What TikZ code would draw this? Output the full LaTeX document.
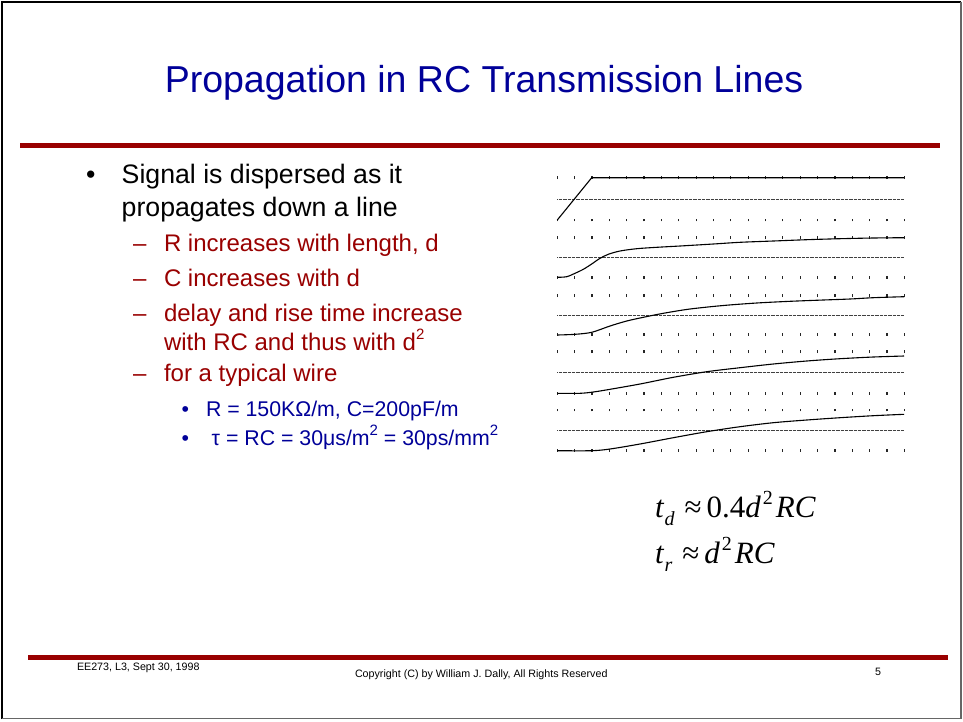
\documentclass[tikz,border=0pt]{standalone}
\usepackage{fontspec}
\setmainfont{Liberation Sans}
\newfontfamily\tnr{Liberation Serif}
\definecolor{slred}{RGB}{153,0,0}
\definecolor{slblue}{RGB}{0,0,153}
\tikzset{
  txt/.style={anchor=base west, inner sep=0pt, outer sep=0pt},
  ttl/.style={anchor=base, inner sep=0pt, font=\fontsize{37.5}{44}\selectfont, text=slblue},
  lvla/.style={txt, font=\fontsize{26.7}{32}\selectfont, text=black},
  lvlb/.style={txt, font=\fontsize{24}{29}\selectfont, text=slred},
  lvlc/.style={txt, font=\fontsize{21.3}{26}\selectfont, text=slblue},
  foot/.style={txt, font=\fontsize{10.7}{13}\selectfont},
  eq/.style={txt, font=\tnr\fontsize{31}{36}\selectfont},
  tickmark/.style={line width=1.2pt, draw=black!85},
  midline/.style={draw=black!75, line width=1pt, dash pattern=on 0.7pt off 0.6pt},
  trace/.style={draw=black, line width=1.1pt},
  barfill/.style={fill=slred, draw=none},
}
\newcommand{\subs}[1]{\raisebox{-8pt}{\fontsize{20}{20}\selectfont\itshape #1}}
\newcommand{\sups}[1]{\raisebox{13pt}{\fontsize{20}{20}\selectfont #1}}
\newcommand{\supt}[1]{\raisebox{0.45em}{\fontsize{15}{15}\selectfont #1}}
\begin{document}
\begin{tikzpicture}[x=1pt,y=-1pt]
\useasboundingbox (0,0) rectangle (963,721);
\fill[white] (0,0) rectangle (963,721);
% frame
\draw[line width=2pt, black] (1.5,719) -- (1.5,1.5) -- (961,1.5);
\draw[line width=1.2pt, black!60] (961,1.5) -- (961,718.5) -- (1.5,718.5);
% bars
\fill[barfill] (20,142.5) rectangle (940,147.7);
\fill[barfill] (28,655) rectangle (948,660);
% title
\node[ttl] (title) at (484,92) {Propagation in RC Transmission Lines};
% bullets
\node[lvla] (b1) at (86,183.3) {•};
\node[lvla] (t1a) at (121.7,183.3) {Signal is dispersed as it};
\node[lvla] (t1b) at (121.7,216.7) {propagates down a line};
\node[lvlb] (d1) at (133,251.7) {–};
\node[lvlb] (s1) at (164,251.7) {R increases with length, d};
\node[lvlb] (d2) at (133,286) {–};
\node[lvlb] (s2) at (164,286) {C increases with d};
\node[lvlb] (d3) at (133,321.7) {–};
\node[lvlb] (s3a) at (164,321.7) {delay and rise time increase};
\node[lvlb] (s3b) at (164,350) {with RC and thus with d\supt{2}};
\node[lvlb] (d4) at (133,381.7) {–};
\node[lvlb] (s4) at (164,381.7) {for a typical wire};
\node[lvlc] (c1) at (181.7,416) {•};
\node[lvlc] (u1) at (206,416) {R = 150KΩ/m, C=200pF/m};
\node[lvlc] (c2) at (181.7,445) {•};
\node[lvlc] (u2) at (211.7,445) {τ = RC = 30μs/m\supt{2} = 30ps/mm\supt{2}};
% plot: tick dots
\foreach \r in {177.7,220,237.7,277.3,295.7,334.3,351.7,393.3,410,450.3}
  \foreach \i in {0,...,20}
    \draw[tickmark] ({557.3+\i*17.35},{\r+1.3}) -- ++(0,-2.6);
% mid reference lines
\foreach \m in {199.3,257.3,315,372.3,430}
  \draw[midline] (557.3,\m) -- (904,\m);
% traces
\draw[trace] (557.3,220) -- (591.7,177.7) -- (904,177.7);
\draw[trace] plot[smooth, tension=0.5] coordinates {(557.3,277.3) (566.7,276.7) (575,273.3) (583.3,269.3) (591.7,264) (600,258.3) (608.3,254.3) (620,251) (636.7,248.7) (656.7,247.3) (680,246) (713.3,244) (740,242.3) (773.3,241) (806.7,239.7) (840,238.7) (873.3,238) (904,237.7)};
\draw[trace] plot[smooth, tension=0.5] coordinates {(557.3,335) (575,334.3) (591.7,332.3) (610,326) (626.7,321) (643.3,317.3) (663.3,313.3) (690,309) (723.3,305.5) (756.7,303) (790,301.3) (823.3,300) (850,299) (873.3,297.7) (904,296.7)};
\draw[trace] plot[smooth, tension=0.5] coordinates {(557.3,393.3) (580,393.3) (593.3,392) (610,389.3) (640,384) (673.3,377.3) (706.7,371.7) (740,367.7) (773.3,364) (806.7,361) (840,358.7) (873.3,357) (904,356)};
\draw[trace] plot[smooth, tension=0.5] coordinates {(557.3,450.7) (591.7,450.7) (610,449) (640,444) (673.3,437.7) (706.7,431.7) (740,426.7) (773.3,422.7) (806.7,420) (840,417.7) (873.3,415.7) (904,414.3)};
% equations
\node[eq] (eqa) at (655,517) {{\itshape t}\hspace{1pt}\subs{d}\hspace{10pt}≈\hspace{5pt}0.4{\itshape d}\hspace{2pt}\sups{2}\hspace{3pt}{\itshape RC}};
\node[eq] (eqb) at (655,563) {{\itshape t}\hspace{1pt}\subs{r}\hspace{10pt}≈\hspace{5pt}{\itshape d}\hspace{2pt}\sups{2}\hspace{3pt}{\itshape RC}};
% footer
\node[foot] (fl) at (77,670) {EE273, L3, Sept 30, 1998};
\node[foot] (fc) at (355,677.7) {Copyright (C) by William J. Dally, All Rights Reserved};
\node[foot] (fn) at (875,675) {5};
\end{tikzpicture}
\end{document}
